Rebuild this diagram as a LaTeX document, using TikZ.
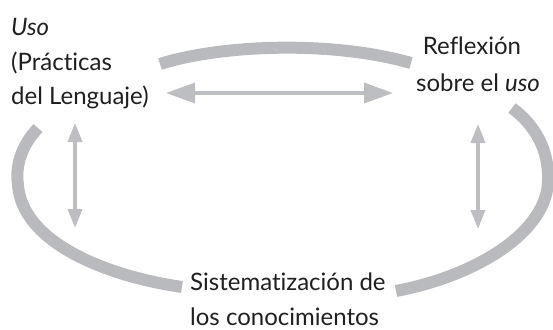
\documentclass[tikz,border=0pt]{standalone}
\usepackage{fontspec}
\setmainfont{Lato}[Ligatures={NoCommon}]
\usetikzlibrary{arrows.meta}
\definecolor{arcgray}{HTML}{B9BABE}
\definecolor{arrgray}{HTML}{BDBEC2}
\begin{document}
\begin{tikzpicture}[x=1pt,y=-1pt,
  lbl/.style={inner sep=0pt, font=\fontsize{24}{35}\selectfont, text=black!88},
  band/.style={draw=arcgray, line width=12pt},
  harrow/.style={draw=arrgray, line width=3.5pt, {Triangle[length=29pt,width=20pt]}-{Triangle[length=29pt,width=20pt]}},
  varrow/.style={draw=arrgray, line width=3.5pt, {Triangle[length=19pt,width=14pt]}-{Triangle[length=19pt,width=14pt]}}]
\useasboundingbox (0,0) rectangle (553,329);
% labels
\node[lbl, anchor=base west] (uso1) at (11,35) {\itshape Uso};
\node[lbl, anchor=base west] (uso2) at (11,70) {(Prácticas};
\node[lbl, anchor=base west] (uso3) at (11,104) {del Lenguaje)};
\node[lbl, anchor=base] (ref1) at (472,55) {Reflexión};
\node[lbl, anchor=base] (ref2) at (478,91) {sobre el \textit{uso}};
\node[lbl, anchor=base west] (sis1) at (190,290) {Sistematización de};
\node[lbl, anchor=base west] (sis2) at (190,325) {los conocimientos};
% bands
\draw[band] (160,64) .. controls (220,45) and (330,40) .. (411,63);
\draw[band] (38,128) .. controls (22,145) and (15,165) .. (18,185)
  .. controls (22,240) and (100,275) .. (182,287);
\draw[band] (512,108) .. controls (535,125) and (549,150) .. (548,180)
  .. controls (548,230) and (480,275) .. (396,291);
% arrows
\coordinate (hl) at (166,93);
\coordinate (hr) at (393,93);
\coordinate (lt) at (75,123);
\coordinate (lb) at (75,228);
\coordinate (rt) at (478,124);
\coordinate (rb) at (478,229);
\draw[harrow] (hl) -- (hr);
\draw[varrow] (lt) -- (lb);
\draw[varrow] (rt) -- (rb);
\end{tikzpicture}
\end{document}
